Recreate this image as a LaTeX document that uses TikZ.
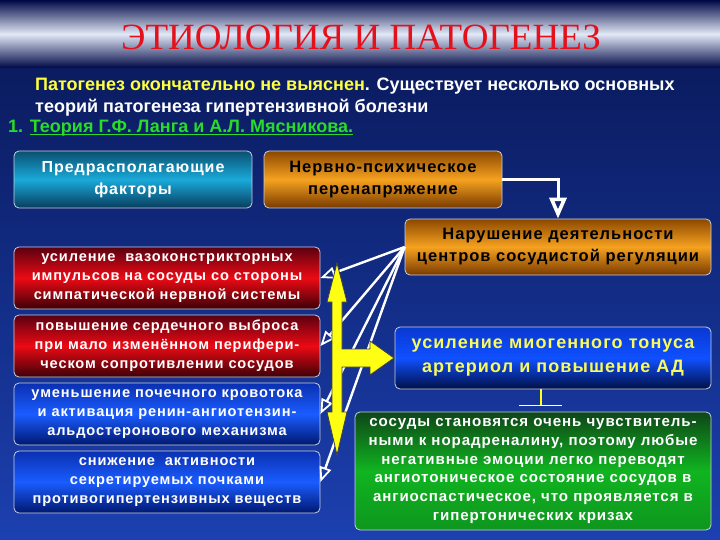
\documentclass[tikz,border=0pt]{standalone}
\usepackage{fontspec}
\setmainfont{Liberation Sans}
\newfontfamily\titlefont{Liberation Serif}
\newfontfamily\boxfont{Liberation Sans}[LetterSpace=6]
\newfontfamily\subfont{Liberation Sans}
\usetikzlibrary{arrows.meta,calc}
\definecolor{bgtop}{RGB}{8,22,84}
\definecolor{bgbot}{RGB}{28,64,176}
\definecolor{navy}{RGB}{0,8,70}
\definecolor{silver}{RGB}{225,232,246}
\definecolor{titlered}{RGB}{228,16,28}
\definecolor{subyellow}{RGB}{255,255,60}
\definecolor{subgreen}{RGB}{40,220,40}
\definecolor{boxborder}{RGB}{200,208,224}
\definecolor{yarrow}{RGB}{255,255,20}
\definecolor{myyellow}{RGB}{250,250,90}
\begin{document}
\begin{tikzpicture}[x=1pt,y=-1pt,
  box/.style={draw=boxborder, line width=0.8pt, rounded corners=5pt, align=center, inner sep=2pt,
    font=\boxfont\bfseries\fontsize{14.6}{19}\selectfont, text=white},
  tealbox/.style={box, top color={rgb,255:red,10;green,80;blue,112}, bottom color={rgb,255:red,8;green,60;blue,92}, middle color={rgb,255:red,26;green,170;blue,218}},
  orangebox/.style={box, text=black, top color={rgb,255:red,140;green,72;blue,0}, bottom color={rgb,255:red,120;green,58;blue,0}, middle color={rgb,255:red,246;green,162;blue,32}},
  redbox/.style={box, top color={rgb,255:red,90;green,0;blue,16}, bottom color={rgb,255:red,58;green,0;blue,8}, middle color={rgb,255:red,236;green,10;blue,20}},
  bluebox/.style={box, top color={rgb,255:red,10;green,48;blue,176}, bottom color={rgb,255:red,0;green,24;blue,112}, middle color={rgb,255:red,26;green,92;blue,255}},
  wline/.style={draw=white, line width=2.4pt, -{Triangle[open,length=15pt,width=12pt,line width=1.8pt]}},
  subtext/.style={anchor=base west, inner sep=0, font=\subfont\bfseries\fontsize{18}{20}\selectfont},
]
\useasboundingbox (0,0) rectangle (720,540);
\shade[top color=bgtop, bottom color=bgbot] (0,0) rectangle (720,540);
\shade[top color=navy, bottom color=navy, middle color=silver] (0,0) rectangle (720,68);

\node[font=\titlefont\fontsize{37}{42}\selectfont, text=titlered] (title) at (361,37) {ЭТИОЛОГИЯ И ПАТОГЕНЕЗ};

\node[subtext, text=white] (s1) at (35,91)
  {\textcolor{subyellow}{Патогенез окончательно не выяснен}. Существует несколько основных};
\node[subtext, text=white] (s2) at (35,113)
  {теорий патогенеза гипертензивной болезни};
\node[subtext, text=subgreen] (s3) at (8,133)
  {1. \underline{\smash{Теория Г.Ф. Ланга и А.Л. Мясникова.}}};

\node[tealbox, minimum width=238pt, minimum height=57pt, font=\boxfont\bfseries\fontsize{16}{22}\selectfont] (pf) at (133,179.5) {Предрасполагающие\\факторы};
\node[orangebox, minimum width=238pt, minimum height=57pt, font=\boxfont\bfseries\fontsize{16.5}{22}\selectfont] (np) at (383,179.5) {Нервно-психическое\\перенапряжение};
\node[orangebox, minimum width=306pt, minimum height=56pt, font=\boxfont\bfseries\fontsize{16.5}{22}\selectfont] (nar) at (558,247) {Нарушение деятельности\\центров сосудистой регуляции};

\node[redbox, minimum width=306pt, minimum height=62pt] (a) at (167,278) {усиление\ \ вазоконстрикторных\\импульсов на сосуды со стороны\\симпатической нервной системы};
\node[redbox, minimum width=306pt, minimum height=62pt] (b) at (167,346) {повышение сердечного выброса\\при мало изменённом перифери-\\ческом сопротивлении сосудов};
\node[bluebox, minimum width=306pt, minimum height=62pt] (c) at (167,414) {уменьшение почечного кровотока\\и активация ренин-ангиотензин-\\альдостеронового механизма};
\node[bluebox, minimum width=306pt, minimum height=62pt] (d) at (167,482) {снижение\ \ активности\\секретируемых почками\\противогипертензивных веществ};

\node[box, text=myyellow, minimum width=316pt, minimum height=62pt, font=\boxfont\bfseries\fontsize{18}{24}\selectfont,
  top color={rgb,255:red,8;green,56;blue,210}, bottom color={rgb,255:red,0;green,16;blue,70}, middle color={rgb,255:red,16;green,80;blue,255}] (my) at (553,358) {усиление миогенного тонуса\\артериол и повышение АД};

\node[box, inner sep=1pt, minimum width=356pt, minimum height=118pt, font=\boxfont\bfseries\fontsize{15.1}{18.8}\selectfont,
  top color={rgb,255:red,14;green,70;blue,24}, bottom color={rgb,255:red,14;green,150;blue,30}, middle color={rgb,255:red,16;green,180;blue,32}] (gr) at (533,471)
  {сосуды становятся очень чувствитель-\\ными к норадреналину, поэтому любые\\негативные эмоции легко переводят\\ангиотоническое состояние сосудов в\\ангиоспастическое, что проявляется в\\гипертонических кризах};

% connectors
\draw[draw=white, line width=3pt, -{Triangle[open,length=21pt,width=17pt,line width=3.6pt]}] (np.east) -| (nar.north);
\draw[wline] (nar.west) -- (a.east);
\draw[wline] (nar.west) -- (b.east);
\draw[wline] (nar.west) -- (c.east);
\draw[wline] (nar.west) -- (d.east);

\filldraw[fill=yarrow, draw=black!75, line width=0.8pt]
  (337,263) -- (347,302) -- (342,302) -- (342,349) -- (370,349) -- (370,341) -- (394,358) -- (370,375) -- (370,367)
  -- (342,367) -- (342,412) -- (347,412) -- (337,455) -- (327,412) -- (332,412) -- (332,302) -- (327,302) -- cycle;

\draw[yarrow, line width=2.5pt] ($(my.south)+(-12,0)$) -- ++(0,16) coordinate (bar);
\draw[white, line width=1.5pt] ($(bar)+(-22,0)$) -- ($(bar)+(21,0)$);
\end{tikzpicture}
\end{document}
